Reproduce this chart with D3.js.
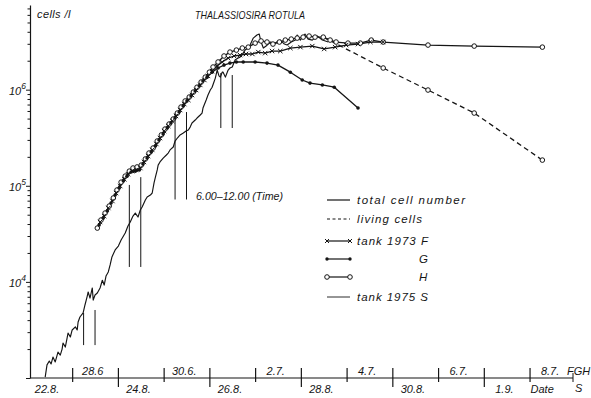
<!DOCTYPE html>
<html><head><meta charset="utf-8">
<script src="https://cdn.jsdelivr.net/npm/d3@7"></script>
<style>
body{margin:0;background:#fff}
svg text{font-family:"Liberation Sans",Arial,sans-serif;font-style:italic;fill:#151515}
</style></head><body>
<svg id="chart" width="591" height="398"></svg>
<script>
// Time in days: 0 = 28.6.1973 0:00 for tanks F, G, H and 23.8.1975 0:00 for tank S.
// Values in cells per litre.
const tankF = [[0.61,4.20e4],[0.70,4.84e4],[0.79,5.87e4],[0.88,6.94e4],[0.96,8.41e4],[1.05,9.94e4],[1.14,1.17e5],[1.22,1.32e5],[1.31,1.42e5],[1.40,1.46e5],[1.49,1.53e5],[1.57,1.77e5],[1.66,2.04e5],[1.75,2.36e5],[1.84,2.72e5],[1.92,3.14e5],[2.01,3.71e5],[2.10,4.19e5],[2.19,4.72e5],[2.27,5.32e5],[2.36,6.14e5],[2.45,7.08e5],[2.54,7.80e5],[2.62,8.79e5],[2.71,9.91e5],[2.80,1.12e6],[2.89,1.26e6],[2.97,1.39e6],[3.06,1.56e6],[3.17,1.76e6],[3.28,1.94e6],[3.41,2.13e6],[3.54,2.24e6],[3.67,2.29e6],[3.80,2.35e6],[3.94,2.35e6],[4.07,2.46e6],[4.22,2.40e6],[4.37,2.52e6],[4.55,2.52e6],[4.77,2.71e6],[4.99,2.77e6],[5.25,2.84e6],[5.51,2.65e6],[5.75,2.77e6],[5.99,2.91e6],[6.25,2.98e6],[6.52,3.13e6],[6.80,3.13e6]];

const tankG = [[0.59,3.91e4],[0.68,4.61e4],[0.77,5.46e4],[0.85,6.62e4],[0.94,8.01e4],[1.03,9.48e4],[1.12,1.12e5],[1.20,1.26e5],[1.29,1.39e5],[1.38,1.42e5],[1.47,1.46e5],[1.55,1.68e5],[1.64,1.94e5],[1.73,2.24e5],[1.82,2.59e5],[1.90,2.99e5],[1.99,3.45e5],[2.08,3.99e5],[2.16,4.50e5],[2.25,5.07e5],[2.34,5.85e5],[2.43,6.76e5],[2.51,7.62e5],[2.60,8.59e5],[2.69,9.68e5],[2.78,1.09e6],[2.86,1.23e6],[2.95,1.35e6],[3.06,1.52e6],[3.19,1.68e6],[3.32,1.80e6],[3.45,1.89e6],[3.59,1.94e6],[3.74,1.94e6],[4.00,1.94e6],[4.26,1.89e6],[4.50,1.80e6],[4.77,1.52e6],[5.03,1.26e6],[5.20,1.17e6],[5.47,1.12e6],[5.73,1.06e6],[6.25,6.44e5]];

const tankH = [[0.55,3.63e4],[0.63,4.40e4],[0.72,5.20e4],[0.81,6.15e4],[0.90,7.46e4],[0.98,9.03e4],[1.07,1.09e5],[1.16,1.26e5],[1.25,1.42e5],[1.33,1.53e5],[1.42,1.57e5],[1.51,1.64e5],[1.60,1.90e5],[1.68,2.19e5],[1.77,2.47e5],[1.86,2.92e5],[1.95,3.38e5],[2.03,3.89e5],[2.12,4.39e5],[2.21,4.95e5],[2.30,5.71e5],[2.38,6.59e5],[2.47,7.62e5],[2.56,8.38e5],[2.65,9.44e5],[2.73,1.06e6],[2.82,1.20e6],[2.91,1.35e6],[3.00,1.52e6],[3.08,1.72e6],[3.19,1.94e6],[3.32,2.24e6],[3.45,2.46e6],[3.59,2.58e6],[3.72,2.71e6],[3.85,2.77e6],[4.00,3.05e6],[4.13,3.21e6],[4.26,3.13e6],[4.39,2.98e6],[4.53,3.13e6],[4.66,3.28e6],[4.79,3.36e6],[4.92,3.44e6],[5.05,3.52e6],[5.18,3.61e6],[5.31,3.52e6],[5.49,3.52e6],[5.64,3.28e6],[5.77,3.13e6],[6.03,3.05e6],[6.30,3.05e6],[6.54,3.28e6],[6.80,3.13e6],[7.78,2.91e6],[8.79,2.84e6],[10.28,2.77e6]];

// living cells, tank H
const tankHLiving = [[5.49,3.52e6],[6.80,1.68e6],[7.78,9.91e5],[8.79,5.71e5],[10.28,1.85e5]];

const tankS = [[-0.59,1.02e3],[-0.55,1.37e3],[-0.50,1.50e3],[-0.46,1.40e3],[-0.42,1.65e3],[-0.37,1.47e3],[-0.31,1.86e3],[-0.26,1.73e3],[-0.22,2.00e3],[-0.20,2.31e3],[-0.15,2.10e3],[-0.11,2.61e3],[-0.09,2.94e3],[-0.04,2.67e3],[0,3.16e3],[0.07,3.40e3],[0.11,3.16e3],[0.13,3.83e3],[0.17,4.31e3],[0.24,4.75e3],[0.28,5.75e3],[0.33,7.12e3],[0.35,7.85e3],[0.39,6.79e3],[0.44,8.64e3],[0.46,6.47e3],[0.50,7.30e3],[0.55,7.66e3],[0.61,8.64e3],[0.66,1.04e4],[0.70,9.27e3],[0.74,1.15e4],[0.79,1.27e4],[0.83,1.50e4],[0.87,1.82e4],[0.94,2.15e4],[1.01,2.36e4],[1.07,2.73e4],[1.16,3.22e4],[1.22,3.81e4],[1.27,4.20e4],[1.33,4.84e4],[1.38,5.20e4],[1.44,4.73e4],[1.49,5.60e4],[1.53,6.01e4],[1.60,7.11e4],[1.64,7.64e4],[1.71,8.01e4],[1.75,8.41e4],[1.79,1.07e5],[1.82,1.23e5],[1.86,1.46e5],[1.88,1.64e5],[1.92,1.77e5],[1.99,1.94e5],[2.06,2.09e5],[2.10,2.19e5],[2.14,2.36e5],[2.21,2.53e5],[2.25,2.92e5],[2.30,3.14e5],[2.36,3.38e5],[2.43,3.54e5],[2.49,3.71e5],[2.54,3.80e5],[2.58,4.08e5],[2.62,4.50e5],[2.69,4.83e5],[2.73,5.07e5],[2.80,5.45e5],[2.84,5.71e5],[2.86,6.44e5],[2.93,7.80e5],[2.97,8.79e5],[3.02,9.91e5],[3.06,1.06e6],[3.10,1.20e6],[3.13,1.32e6],[3.17,1.60e6],[3.21,1.39e6],[3.24,1.35e6],[3.28,1.52e6],[3.30,1.52e6],[3.35,1.35e6],[3.41,1.60e6],[3.45,1.68e6],[3.50,1.72e6],[3.56,2.03e6],[3.63,2.13e6],[3.67,2.18e6],[3.74,2.40e6],[3.78,2.58e6],[3.85,2.71e6],[3.89,2.91e6],[3.96,3.44e6],[4.04,3.70e6],[4.09,3.79e6],[4.13,3.13e6],[4.18,2.71e6],[4.24,2.84e6],[4.33,3.13e6],[4.44,3.05e6],[4.55,3.28e6],[4.64,2.98e6],[4.70,2.91e6],[4.79,3.13e6],[4.88,3.28e6],[4.92,3.70e6],[4.99,3.28e6],[5.03,3.52e6],[5.09,3.79e6],[5.16,3.36e6],[5.25,3.28e6],[5.36,3.61e6],[5.47,3.28e6],[5.60,3.13e6]];

// sampling-time marks (6.00 and 12.00 of a day): [time, upper value, lower value]
const timeMarks = [[0.25,4.75e3,2.20e3],[0.50,5.10e3,2.20e3],[1.25,1.02e5,1.43e4],[1.50,1.23e5,1.43e4],[2.25,5.71e5,7.2e4],[2.50,5.85e5,7.2e4],[3.25,1.49e6,3.99e5],[3.50,1.42e6,3.99e5]];

// date labels: upper row 1973 (F, G, H), lower row 1975 (S)
const datesTop = [[0,"28.6"],[2,"30.6."],[4,"2.7."],[6,"4.7."],[8,"6.7."],[10,"8.7."]];
const datesBottom = [[-1,"22.8."],[1,"24.8."],[3,"26.8."],[5,"28.8."],[7,"30.8."],[9,"1.9."]];
const dayTicks = d3.range(0, 11);
const decades = [1e3, 1e4, 1e5, 1e6];

const svg = d3.select("#chart");
const x = d3.scaleLinear().domain([-0.9, 10.95]).range([31, 573]);
const y = d3.scaleLog().domain([1e3, 7.6e6]).range([378, 5]);
const ink = "#151515";

// ----- y axis (log) -----
const minorTicks = [];
decades.forEach(d => { for (let k = 1; k < 10; k++) { const v = d * k; if (v <= 7.6e6) minorTicks.push(v); } });
const yAxis = svg.append("g").attr("transform", "translate(30,0)")
  .call(d3.axisLeft(y).tickValues(minorTicks).tickFormat("").tickSizeOuter(0));
yAxis.select(".domain").attr("stroke", ink).attr("stroke-width", 1.2);
yAxis.selectAll(".tick line").attr("stroke", ink).attr("stroke-width", 1)
  .attr("x2", d => decades.includes(d) ? -4 : -2.5);
const yl = svg.append("g");
[1e4, 1e5, 1e6].forEach(v => {
  const t = yl.append("text").attr("x", 9).attr("y", y(v) + 5).attr("font-size", 11);
  t.append("tspan").text("10");
  t.append("tspan").attr("dy", -6).attr("font-size", 8.5).text(Math.round(Math.log10(v)));
});
svg.append("text").attr("x", 37).attr("y", 18).attr("font-size", 11).attr("letter-spacing", 0.4).text("cells /l");

// ----- x axis (days) -----
const xAxis = svg.append("g").attr("transform", "translate(0,378)")
  .call(d3.axisBottom(x).tickValues(dayTicks).tickFormat("").tickSizeOuter(0));
xAxis.select(".domain").attr("stroke", ink).attr("stroke-width", 1.2).attr("d", `M${x.range()[0] - 1},0H${x.range()[1]}`);
xAxis.selectAll(".tick line").attr("stroke", ink).attr("stroke-width", 1.2)
  .attr("y1", -10).attr("y2", d => d % 2 ? 9 : 4);
xAxis.append("line").attr("x1", x.range()[1]).attr("x2", x.range()[1]).attr("y1", -5).attr("y2", 4)
  .attr("stroke", ink).attr("stroke-width", 1);

svg.append("g").selectAll("text").data(datesTop).join("text")
  .attr("x", d => x(d[0] + 0.45)).attr("y", 375).attr("text-anchor", "middle").attr("font-size", 11).text(d => d[1]);
svg.append("g").selectAll("text").data(datesBottom).join("text")
  .attr("x", d => x(d[0] + 0.45)).attr("y", 393).attr("text-anchor", "middle").attr("font-size", 11).text(d => d[1]);
svg.append("text").attr("x", x(10) + 1).attr("y", 393).attr("font-size", 11).text("Date");
svg.append("text").attr("x", 567).attr("y", 375).attr("font-size", 11).text("FGH");
svg.append("text").attr("x", 575).attr("y", 392).attr("font-size", 11).text("S");

// ----- title -----
svg.append("text").attr("x", 195).attr("y", 18.5).attr("font-size", 11.5)
  .attr("textLength", 110).attr("lengthAdjust", "spacingAndGlyphs").text("THALASSIOSIRA ROTULA");

// ----- curves -----
const line = d3.line().x(d => x(d[0])).y(d => y(d[1]));
const curves = svg.append("g").attr("fill", "none").attr("stroke", ink).attr("stroke-linejoin", "round");

curves.append("g").selectAll("line").data(timeMarks).join("line")
  .attr("x1", d => x(d[0])).attr("x2", d => x(d[0]))
  .attr("y1", d => y(d[1])).attr("y2", d => y(d[2])).attr("stroke-width", 1);

curves.append("path").datum(tankS).attr("d", line).attr("stroke-width", 1.15);
curves.append("path").datum(tankG).attr("d", line).attr("stroke-width", 1.3);
curves.append("path").datum(tankF).attr("d", line).attr("stroke-width", 1.3);
curves.append("path").datum(tankH).attr("d", line).attr("stroke-width", 1.3);
curves.append("path").datum(tankHLiving).attr("d", line).attr("stroke-width", 1.3).attr("stroke-dasharray", "5,3.5");

// markers
const marks = svg.append("g");
function crosses(g, data, s) {
  g.selectAll(null).data(data).join("path")
    .attr("d", d => { const cx = x(d[0]), cy = y(d[1]);
      return `M${cx - s},${cy - s}L${cx + s},${cy + s}M${cx - s},${cy + s}L${cx + s},${cy - s}`; })
    .attr("stroke", ink).attr("stroke-width", 1).attr("fill", "none");
}
function dots(g, data, r) {
  g.selectAll(null).data(data).join("circle")
    .attr("cx", d => x(d[0])).attr("cy", d => y(d[1])).attr("r", r).attr("fill", ink);
}
function rings(g, data, r) {
  g.selectAll(null).data(data).join("circle")
    .attr("cx", d => x(d[0])).attr("cy", d => y(d[1])).attr("r", r)
    .attr("fill", "#fff").attr("stroke", ink).attr("stroke-width", 1);
}
rings(marks.append("g"), tankH, 2.3);
rings(marks.append("g"), tankHLiving.slice(1), 2.3);
crosses(marks.append("g"), tankF, 2.2);
dots(marks.append("g"), tankG, 1.8);

// ----- legend -----
const lg = svg.append("g");
const rows = [
  {y: 200, label: "total cell number", w: 108, dash: null},
  {y: 219, label: "living cells", w: 65, dash: "3,2.5"},
  {y: 241, label: "tank 1973 F", w: 71, dash: null, mk: "x"},
  {y: 259, label: "G", dash: null, mk: "dot"},
  {y: 277, label: "H", dash: null, mk: "ring"},
  {y: 297, label: "tank 1975 S", w: 71, dash: null, thin: true}
];
rows.forEach(r => {
  lg.append("line").attr("x1", 327).attr("x2", 350).attr("y1", r.y).attr("y2", r.y)
    .attr("stroke", ink).attr("stroke-width", r.thin ? 0.9 : 1.2).attr("stroke-dasharray", r.dash);
  const ends = [[327, r.y], [350, r.y]];
  if (r.mk === "x") ends.forEach(([cx, cy]) => lg.append("path")
    .attr("d", `M${cx - 2},${cy - 2}L${cx + 2},${cy + 2}M${cx - 2},${cy + 2}L${cx + 2},${cy - 2}`).attr("stroke", ink));
  if (r.mk === "dot") ends.forEach(([cx, cy]) => lg.append("circle").attr("cx", cx).attr("cy", cy).attr("r", 1.7).attr("fill", ink));
  if (r.mk === "ring") ends.forEach(([cx, cy]) => lg.append("circle").attr("cx", cx).attr("cy", cy).attr("r", 2.3).attr("fill", "#fff").attr("stroke", ink));
  const t = lg.append("text").attr("x", r.w ? 357 : 419).attr("y", r.y + 4).attr("font-size", 11.5).text(r.label);
  if (r.w) t.attr("textLength", r.w).attr("lengthAdjust", "spacing");
});

svg.append("text").attr("x", 196).attr("y", 200).attr("font-size", 10.5)
  .attr("textLength", 87).attr("lengthAdjust", "spacingAndGlyphs").text("6.00–12.00 (Time)");
</script>
</body></html>
